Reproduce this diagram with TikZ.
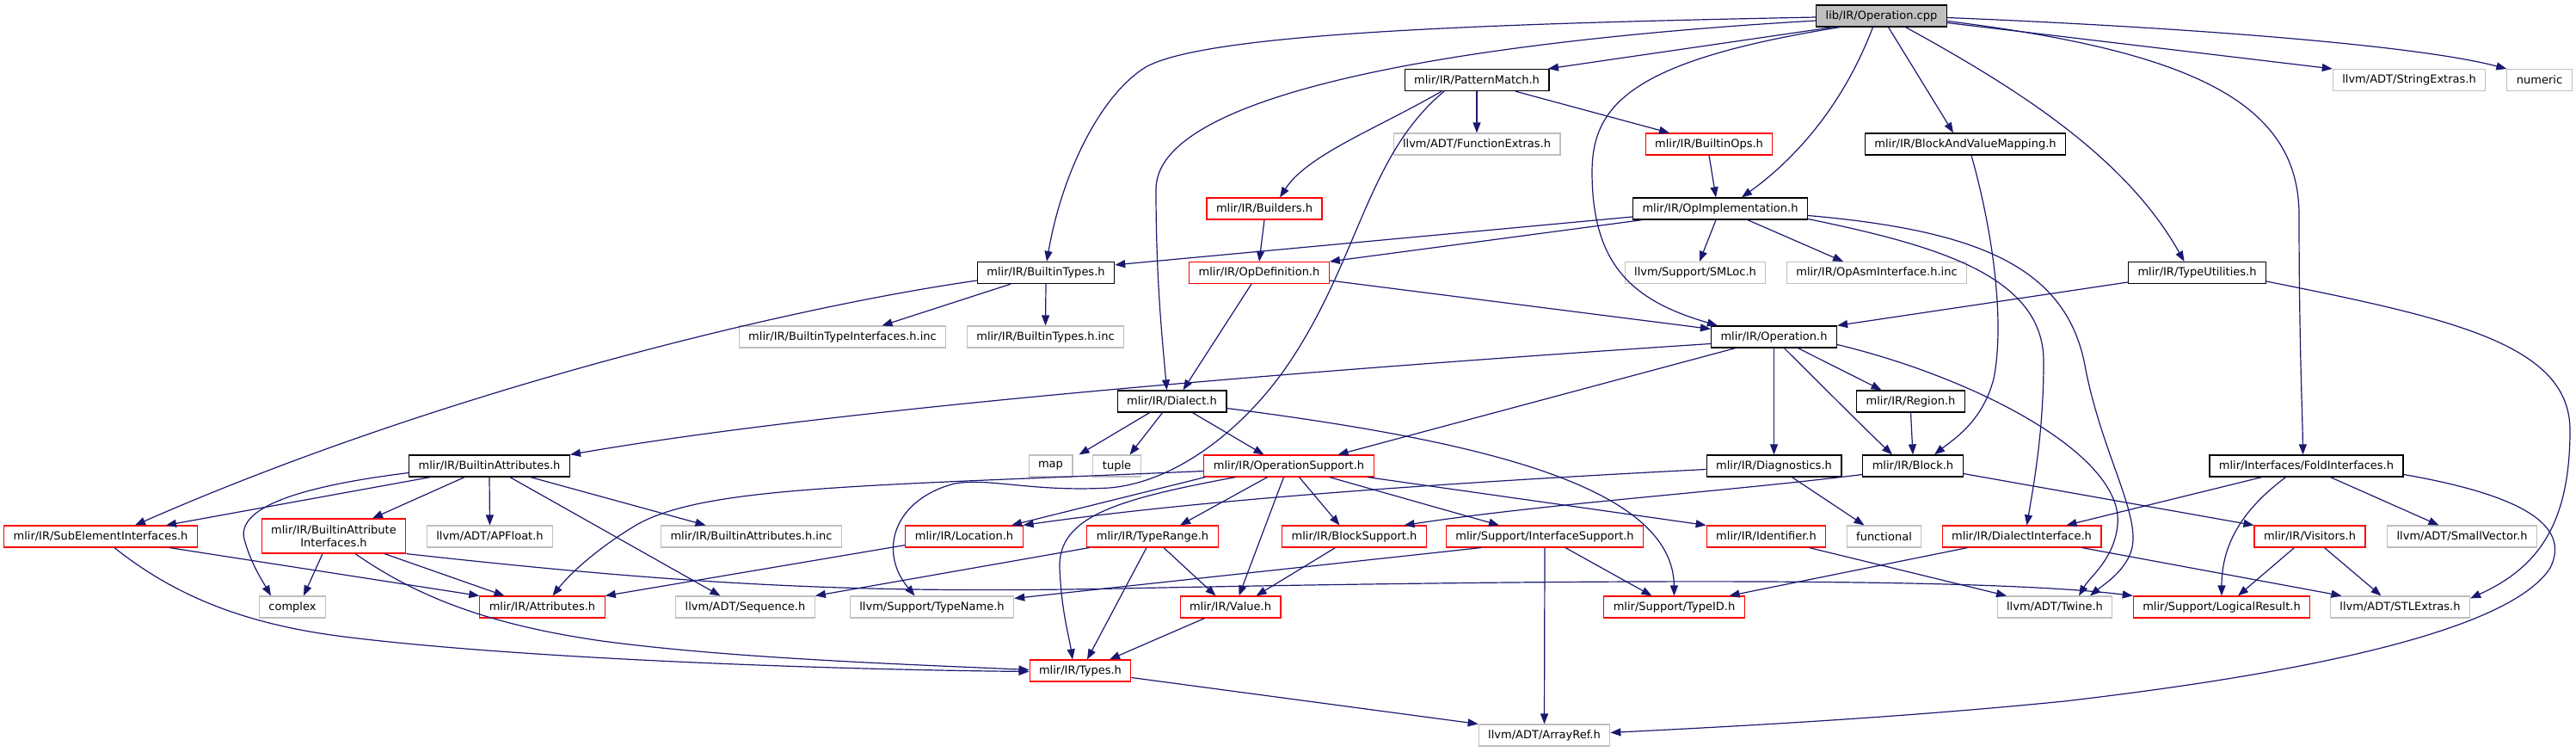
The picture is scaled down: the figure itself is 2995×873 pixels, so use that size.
\documentclass[tikz,border=0pt]{standalone}
\usepackage{fontspec}
\setmainfont{DejaVu Sans}
\usepackage{tikz}
\usetikzlibrary{arrows.meta}

\definecolor{edgeblue}{HTML}{191970}
\definecolor{extgray}{HTML}{BFBFBF}

\begin{document}
\begin{tikzpicture}[x=1pt, y=-1pt,
    hbox/.style={draw, rectangle, line width=1.1pt, inner xsep=11pt, inner ysep=0pt,
      minimum height=25pt, font=\fontsize{13}{15}\selectfont},
    rootbox/.style={hbox, draw=black, fill=extgray},
    docbox/.style={hbox, draw=black, line width=1.3pt},
    redbox/.style={hbox, draw=red},
    extbox/.style={hbox, draw=extgray},
    dep/.style={draw=edgeblue, line width=1.2pt, -{Triangle[length=12pt,width=9pt]}}]
            \useasboundingbox (0,0) rectangle (2995,873);

            % Source file on top
            \node[rootbox] (cpp) at (2187.5,18.5) {lib/IR/Operation.cpp};

            % Headers, row by row
            \node[docbox] (pm) at (1717,93) {mlir/IR/PatternMatch.h};
            \node[extbox] (strx) at (2801,93) {llvm/ADT/StringExtras.h};
            \node[extbox] (numeric) at (2952.5,93) {numeric};

            \node[extbox] (fnx) at (1717,167.5) {llvm/ADT/FunctionExtras.h};
            \node[redbox] (bops) at (1987,167.5) {mlir/IR/BuiltinOps.h};
            \node[docbox] (bvm) at (2285,167.5) {mlir/IR/BlockAndValueMapping.h};

            \node[redbox] (bld) at (1470,242.5) {mlir/IR/Builders.h};
            \node[docbox] (opimpl) at (2000,242.5) {mlir/IR/OpImplementation.h};

            \node[docbox] (btypes) at (1216,317) {mlir/IR/BuiltinTypes.h};
            \node[redbox] (opdef) at (1464,317) {mlir/IR/OpDefinition.h};
            \node[extbox] (smloc) at (1971,317) {llvm/Support/SMLoc.h};
            \node[extbox] (asmif) at (2182,317) {mlir/IR/OpAsmInterface.h.inc};
            \node[docbox] (tyutil) at (2554.5,317) {mlir/IR/TypeUtilities.h};

            \node[extbox] (btinc) at (979.5,391.5) {mlir/IR/BuiltinTypeInterfaces.h.inc};
            \node[extbox] (btypesinc) at (1215.5,391.5) {mlir/IR/BuiltinTypes.h.inc};
            \node[docbox] (op) at (2062.5,391.5) {mlir/IR/Operation.h};

            \node[docbox] (dialect) at (1362.5,466.5) {mlir/IR/Dialect.h};
            \node[docbox] (region) at (2221.5,466.5) {mlir/IR/Region.h};

            \node[docbox] (battr) at (569,541.5) {mlir/IR/BuiltinAttributes.h};
            \node[extbox] (map) at (1221.5,541.5) {map};
            \node[extbox] (tuple) at (1298.5,541.5) {tuple};
            \node[redbox] (opsup) at (1498.5,541.5) {mlir/IR/OperationSupport.h};
            \node[docbox] (diag) at (2062.5,541.5) {mlir/IR/Diagnostics.h};
            \node[docbox] (block) at (2224,541.5) {mlir/IR/Block.h};
            \node[docbox] (fold) at (2681.5,541.5) {mlir/Interfaces/FoldInterfaces.h};

            \node[redbox] (subel) at (117,623.5) {mlir/IR/SubElementInterfaces.h};
            \node[redbox, align=center, minimum height=40pt] (bai) at (388,623) {mlir/IR/BuiltinAttribute\\Interfaces.h};
            \node[extbox] (apfloat) at (569.5,623.5) {llvm/ADT/APFloat.h};
            \node[extbox] (battrinc) at (873.5,623.5) {mlir/IR/BuiltinAttributes.h.inc};
            \node[redbox] (loc) at (1121,623.5) {mlir/IR/Location.h};
            \node[redbox] (trange) at (1340,623.5) {mlir/IR/TypeRange.h};
            \node[redbox] (bsup) at (1574.5,623.5) {mlir/IR/BlockSupport.h};
            \node[redbox] (ifsup) at (1796,623.5) {mlir/Support/InterfaceSupport.h};
            \node[redbox] (ident) at (2053.5,623.5) {mlir/IR/Identifier.h};
            \node[extbox] (functional) at (2190.5,623.5) {functional};
            \node[redbox] (dlif) at (2350.5,623.5) {mlir/IR/DialectInterface.h};
            \node[redbox] (visit) at (2685.5,623.5) {mlir/IR/Visitors.h};
            \node[extbox] (smallvec) at (2862.5,623.5) {llvm/ADT/SmallVector.h};

            \node[extbox] (complex) at (340,705.5) {complex};
            \node[redbox] (attrs) at (630.5,705.5) {mlir/IR/Attributes.h};
            \node[extbox] (seq) at (866.5,705.5) {llvm/ADT/Sequence.h};
            \node[extbox] (tname) at (1083.5,705.5) {llvm/Support/TypeName.h};
            \node[redbox] (value) at (1430.5,705.5) {mlir/IR/Value.h};
            \node[redbox] (typeid) at (1946.5,705.5) {mlir/Support/TypeID.h};
            \node[extbox] (twine) at (2389,705.5) {llvm/ADT/Twine.h};
            \node[redbox] (logres) at (2583,705.5) {mlir/Support/LogicalResult.h};
            \node[extbox] (stlx) at (2790.5,705.5) {llvm/ADT/STLExtras.h};

            \node[redbox] (types) at (1256,779.5) {mlir/IR/Types.h};
            \node[extbox] (aref) at (1795.5,854.5) {llvm/ADT/ArrayRef.h};

            % Includes of the source file
            \draw[dep] ([yshift=-1.5pt]cpp.west) .. controls (1700,28) and (1400,40) .. (1332,78) .. controls (1280,110) and (1235,200) .. ([xshift=1pt]btypes.north);
            \draw[dep] ([yshift=-5.5pt]cpp.west) .. controls (1750,45) and (1344,100) .. (1344,220) .. controls (1344,330) and (1352,400) .. ([xshift=-6pt]dialect.north);
            \draw[dep] ([xshift=-56pt]cpp.south) -- ([xshift=83pt]pm.north);
            \draw[dep] ([xshift=-48pt]cpp.south) .. controls (1900,70) and (1851,120) .. (1851,200) .. controls (1851,310) and (1900,350) .. ([xshift=8pt]op.north west);
            \draw[dep] ([xshift=-10pt]cpp.south) .. controls (2140,130) and (2080,190) .. ([xshift=25pt]opimpl.north);
            \draw[dep] ([xshift=8pt]cpp.south) -- ([xshift=-14pt]bvm.north);
            \draw[dep] ([xshift=28pt]cpp.south) .. controls (2340,100) and (2470,180) .. ([xshift=-15pt]tyutil.north);
            \draw[dep] ([yshift=-8pt]cpp.east) -- (strx.north west);
            \draw[dep] ([yshift=-2pt]cpp.east) .. controls (2500,30) and (2800,50) .. (numeric.north west);
            \draw[dep] ([yshift=-6pt]cpp.east) .. controls (2550,60) and (2673,120) .. (2673,250) .. controls (2673,400) and (2677,480) .. ([xshift=-4pt]fold.north);

            % PatternMatch.h, BuiltinOps.h, BlockAndValueMapping.h, Builders.h
            \draw[dep] (pm.south) -- (fnx.north);
            \draw[dep] ([xshift=45pt]pm.south) -- ([xshift=-46pt]bops.north);
            \draw[dep] ([xshift=-41pt]pm.south) .. controls (1600,150) and (1520,180) .. ([xshift=18pt]bld.north);
            \draw[dep] ([xshift=-38pt]pm.south) .. controls (1590,180) and (1580,300) .. (1500,420) .. controls (1450,495) and (1370,560) .. (1290,567) .. controls (1200,572) and (1150,555) .. (1110,562) .. controls (1040,580) and (1020,640) .. ([xshift=-20pt]tname.north);
            \draw[dep] (bops.south) -- ([xshift=-5pt]opimpl.north);
            \draw[dep] ([xshift=7pt]bvm.south) .. controls (2320,280) and (2330,380) .. (2318,440) .. controls (2305,490) and (2272,510) .. ([xshift=25pt]block.north);
            \draw[dep] (bld.south) -- (opdef.north);

            % OpImplementation.h
            \draw[dep] ([yshift=-9.5pt]opimpl.west) -- ([yshift=-4pt]btypes.north east);
            \draw[dep] ([xshift=-91pt]opimpl.south) -- (opdef.north east);
            \draw[dep] ([xshift=-5pt]opimpl.south) -- ([xshift=5pt]smloc.north);
            \draw[dep] ([xshift=32pt]opimpl.south) -- ([xshift=-39pt]asmif.north);
            \draw[dep] ([yshift=-12pt]opimpl.east) .. controls (2250,285) and (2376,320) .. (2376,420) .. controls (2376,500) and (2365,560) .. ([xshift=6pt]dlif.north);
            \draw[dep] ([yshift=-8pt]opimpl.east) .. controls (2300,268) and (2405,310) .. (2425,430) .. controls (2445,530) and (2490,600) .. (2478,640) .. controls (2470,665) and (2445,680) .. ([xshift=41pt]twine.north);

            % BuiltinTypes.h, OpDefinition.h, TypeUtilities.h
            \draw[dep] ([xshift=-41pt]btypes.south) -- ([xshift=46pt]btinc.north);
            \draw[dep] (btypes.south) -- (btypesinc.north);
            \draw[dep] ([yshift=-9pt]btypes.west) .. controls (900,360) and (500,460) .. ([xshift=40pt]subel.north);
            \draw[dep] ([yshift=-9pt]opdef.east) -- ([yshift=-4pt]op.north west);
            \draw[dep] ([xshift=-9pt]opdef.south) -- ([xshift=13pt]dialect.north);
            \draw[dep] ([yshift=-11pt]tyutil.west) -- (op.north east);
            \draw[dep] ([yshift=-10pt]tyutil.east) .. controls (2850,370) and (2988,400) .. (2988,500) .. controls (2988,610) and (2950,660) .. ([yshift=-3pt]stlx.north east);

            % Operation.h and Region.h
            \draw[dep] ([yshift=-8pt]op.west) .. controls (1600,425) and (1000,470) .. (battr.north east);
            \draw[dep] ([xshift=-45pt]op.south) -- ([xshift=57pt]opsup.north);
            \draw[dep] (op.south) -- (diag.north);
            \draw[dep] ([xshift=12pt]op.south) .. controls (2110,440) and (2170,500) .. ([xshift=-24pt]block.north);
            \draw[dep] ([xshift=28pt]op.south) -- ([xshift=-34pt]region.north);
            \draw[dep] ([yshift=-9pt]op.east) .. controls (2300,440) and (2470,530) .. (2462,610) .. controls (2458,650) and (2430,670) .. ([xshift=28pt]twine.north);
            \draw[dep] (region.south) -- (block.north);

            % Dialect.h
            \draw[dep] ([xshift=-26pt]dialect.south) -- ([xshift=33pt]map.north);
            \draw[dep] ([xshift=-11pt]dialect.south) -- ([xshift=15pt]tuple.north);
            \draw[dep] ([xshift=24pt]dialect.south) -- ([xshift=-29pt]opsup.north);
            \draw[dep] ([yshift=-8pt]dialect.east) .. controls (1700,510) and (1945,560) .. (typeid.north);

            % OperationSupport.h
            \draw[dep] ([xshift=2pt]opsup.south west) -- ([xshift=55pt]loc.north);
            \draw[dep] ([yshift=-6pt]opsup.west) .. controls (1000,565) and (820,565) .. (740,610) .. controls (690,640) and (660,670) .. ([xshift=12pt]attrs.north);
            \draw[dep] ([xshift=-62pt]opsup.south) .. controls (1300,580) and (1230,600) .. (1232,660) .. controls (1234,710) and (1243,740) .. ([xshift=-9pt]types.north);
            \draw[dep] ([xshift=-25pt]opsup.south) -- ([xshift=32pt]trange.north);
            \draw[dep] ([xshift=-6pt]opsup.south) -- ([xshift=10pt]value.north);
            \draw[dep] ([xshift=12pt]opsup.south) -- ([xshift=-17pt]bsup.north);
            \draw[dep] ([xshift=47pt]opsup.south) -- ([xshift=-53pt]ifsup.north);
            \draw[dep] ([xshift=-8pt]opsup.south east) -- (ident.north west);

            % Diagnostics.h, Block.h
            \draw[dep] ([yshift=-4pt]diag.west) .. controls (1700,560) and (1400,580) .. (loc.north east);
            \draw[dep] ([xshift=21pt]diag.south) -- ([xshift=-23pt]functional.north);
            \draw[dep] ([yshift=-10pt]block.west) .. controls (2000,572) and (1800,585) .. ([xshift=58pt]bsup.north);
            \draw[dep] ([yshift=-9pt]block.east) -- (visit.north west);

            % FoldInterfaces.h
            \draw[dep] ([xshift=-52pt]fold.south) -- ([xshift=52pt]dlif.north);
            \draw[dep] ([xshift=-24pt]fold.south) .. controls (2610,590) and (2583,630) .. (logres.north);
            \draw[dep] ([xshift=28pt]fold.south) -- ([xshift=-27pt]smallvec.north);
            \draw[dep] ([yshift=-10pt]fold.east) .. controls (2930,575) and (2990,610) .. (2965,660) .. controls (2920,730) and (2700,780) .. (2400,815) .. controls (2200,835) and (2000,845) .. ([yshift=3pt]aref.east);

            % Visitors.h, DialectInterface.h, Identifier.h
            \draw[dep] ([xshift=-18pt]visit.south) -- ([xshift=19pt]logres.north);
            \draw[dep] ([xshift=17pt]visit.south) -- ([xshift=-22pt]stlx.north);
            \draw[dep] ([xshift=-63pt]dlif.south) -- ([xshift=64pt]typeid.north);
            \draw[dep] ([xshift=70pt]dlif.south) -- ([xshift=-68pt]stlx.north);
            \draw[dep] ([xshift=50pt]ident.south) -- ([xshift=-56pt]twine.north);

            % InterfaceSupport.h, BlockSupport.h
            \draw[dep] ([xshift=-74pt]ifsup.south) -- ([yshift=-3pt]tname.north east);
            \draw[dep] (ifsup.south) -- (aref.north);
            \draw[dep] ([xshift=24pt]ifsup.south) -- ([xshift=-26pt]typeid.north);
            \draw[dep] ([xshift=-22pt]bsup.south) -- ([xshift=30pt]value.north);

            % TypeRange.h, Value.h, Location.h, Types.h
            \draw[dep] ([xshift=3pt]trange.south west) -- (seq.north east);
            \draw[dep] ([xshift=-7pt]trange.south) -- ([xshift=8pt]types.north);
            \draw[dep] ([xshift=13pt]trange.south) -- ([xshift=-17pt]value.north);
            \draw[dep] ([xshift=-30pt]value.south) -- ([xshift=34pt]types.north);
            \draw[dep] ([yshift=3pt]loc.south west) -- (attrs.north east);
            \draw[dep] ([yshift=-8pt]types.east) -- (aref.north west);

            % BuiltinAttributes.h
            \draw[dep] ([xshift=-69pt]battr.south) -- ([xshift=76pt]subel.north);
            \draw[dep] ([yshift=-8pt]battr.west) .. controls (350,565) and (270,590) .. (285,630) .. controls (292,655) and (305,675) .. ([xshift=-25pt]complex.north);
            \draw[dep] ([xshift=-29pt]battr.south) -- ([xshift=45pt]bai.north);
            \draw[dep] (battr.south) -- (apfloat.north);
            \draw[dep] ([xshift=48pt]battr.south) -- ([xshift=-53pt]battrinc.north);
            \draw[dep] ([xshift=24pt]battr.south) -- ([xshift=-29pt]seq.north);

            % BuiltinAttributeInterfaces.h
            \draw[dep] ([xshift=-13pt]bai.south) -- ([xshift=13pt]complex.north);
            \draw[dep] ([xshift=59pt]bai.south) -- ([xshift=-44pt]attrs.north);
            \draw[dep] ([xshift=25pt]bai.south) .. controls (480,690) and (560,725) .. (700,745) .. controls (850,765) and (1050,772) .. ([yshift=1pt]types.west);
            \draw[dep] (bai.south east) .. controls (800,680) and (1000,690) .. (1300,684) .. controls (1800,674) and (2300,670) .. (logres.north west);

            % SubElementInterfaces.h
            \draw[dep] ([xshift=80pt]subel.south) -- (attrs.north west);
            \draw[dep] ([xshift=16pt]subel.south) .. controls (200,690) and (280,725) .. (400,740) .. controls (600,765) and (950,778) .. ([yshift=-1pt]types.west);
        \end{tikzpicture}
\end{document}
